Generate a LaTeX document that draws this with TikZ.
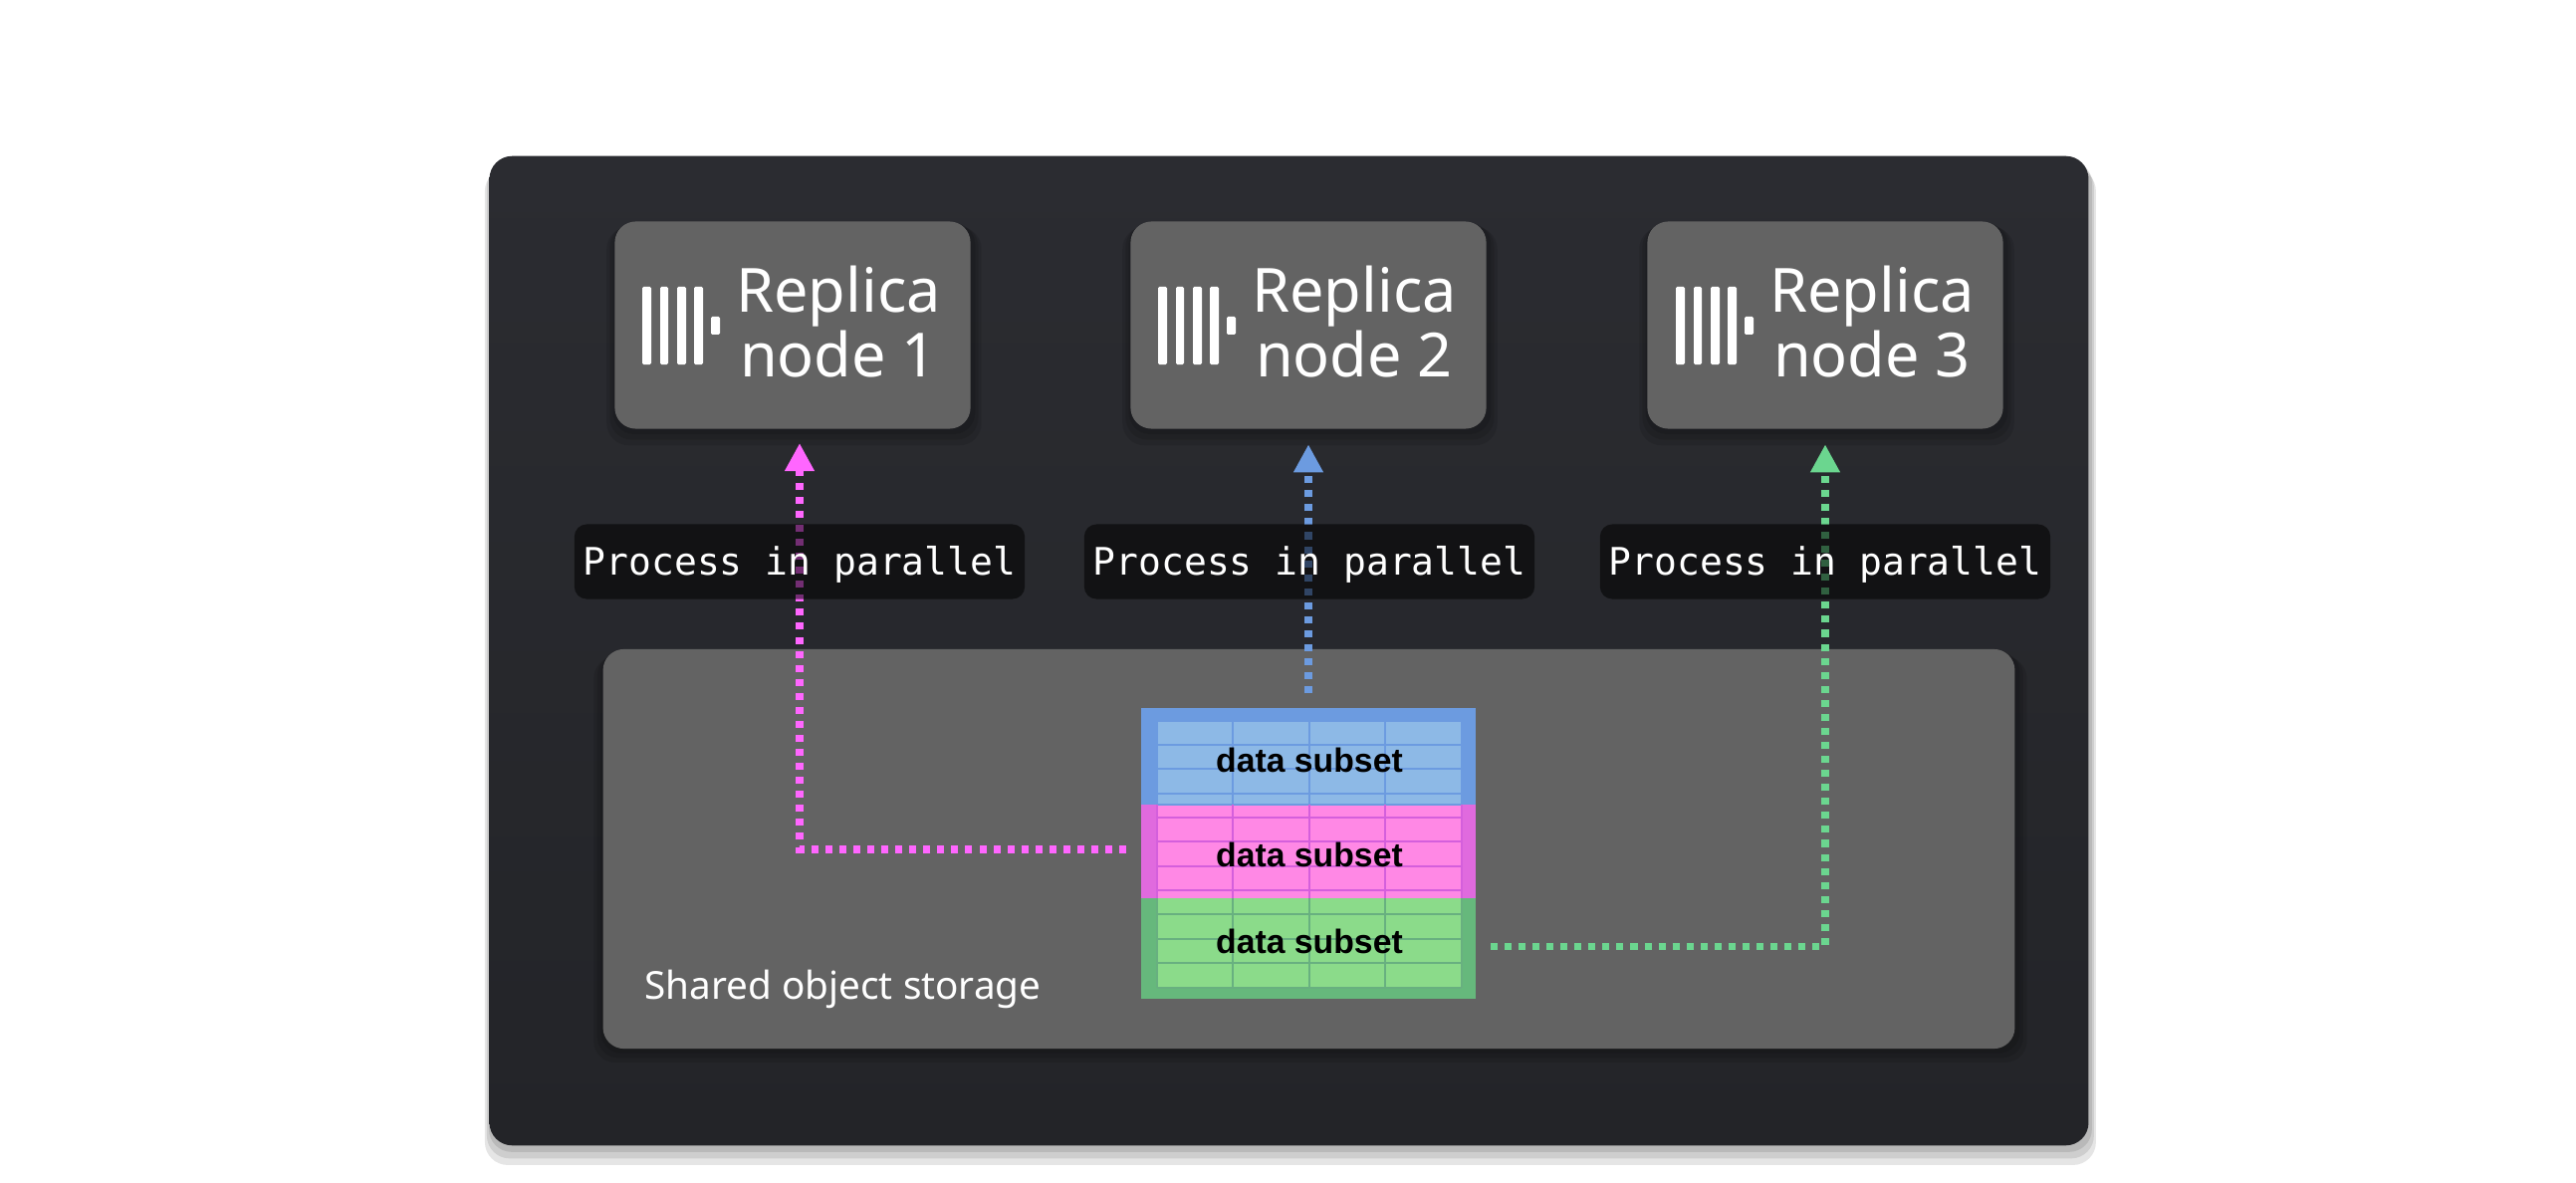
\documentclass[tikz,border=0pt]{standalone}
\usepackage{fontspec}
\setmainfont{Noto Sans}
\setmonofont{DejaVu Sans Mono}
\newfontfamily\subsetfont{Liberation Sans}
\usetikzlibrary{arrows.meta,
                positioning,
                shadows}

\definecolor{panelTop}{HTML}{2B2C31}
\definecolor{panelBottom}{HTML}{232428}
\definecolor{boxGrey}{HTML}{636363}
\definecolor{linkPink}{HTML}{FF66FF}
\definecolor{linkBlue}{HTML}{6C9BE0}
\definecolor{linkGreen}{HTML}{6BD68F}
\definecolor{innerBlue}{HTML}{8DB9E6}
\definecolor{innerPink}{HTML}{FF88E5}
\definecolor{innerGreen}{HTML}{8BDB8A}
\definecolor{outerPink}{HTML}{E06ADE}
\definecolor{outerGreen}{HTML}{66B87C}
\definecolor{gridPink}{HTML}{D45FDC}
\definecolor{gridGreen}{HTML}{68B080}

\tikzset{
    softshadow/.style 2 args={
        general shadow={fill=black,fill opacity=.10,shadow xshift=0.4pt,shadow yshift=-#2,shadow scale=1+#1},
        general shadow={fill=black,fill opacity=.10,shadow xshift=0.4pt,shadow yshift=-2*#2,shadow scale=1+2*#1},
        general shadow={fill=black,fill opacity=.10,shadow xshift=0.4pt,shadow yshift=-3*#2,shadow scale=1+3*#1}},
    panelbox/.style={rectangle, rounded corners=6.5pt, top color=panelTop, bottom color=panelBottom, minimum width=16.05cm, minimum height=9.93cm, inner sep=0pt},
    replicabox/.style={rectangle, rounded corners=6pt, fill=boxGrey, minimum width=3.57cm, minimum height=2.08cm, inner sep=0pt, softshadow={.018}{1pt}},
    replicatext/.style={align=center, text=white, font=\fontsize{17.4}{18.5}\selectfont, inner sep=0pt},
    storagebox/.style={rectangle, rounded corners=6pt, fill=boxGrey, minimum width=14.17cm, minimum height=4.01cm, inner sep=0pt, softshadow={.005}{1pt}},
    processlabel/.style={rectangle, rounded corners=3.5pt, fill=black, fill opacity=.55, text opacity=1, text=white, font=\ttfamily\fontsize{10.8}{12}\selectfont, text height=8pt, text depth=0.6pt, minimum width=4.52cm, minimum height=0.75cm, inner sep=0pt},
    bandbox/.style={rectangle, minimum width=3.36cm, inner sep=0pt},
    subsettext/.style={text=black, font=\subsetfont\bfseries\fontsize{9.6}{11}\selectfont, inner sep=0pt},
    link/.style={line width=2.1pt, dash pattern=on 2pt off 2pt, shorten <=14*0.2845pt, shorten >=15*0.2845pt, -{Triangle[width=8pt,length=8pt]}},
    gridline/.style={line width=0.4pt}
}

\newcommand{\replicalogo}[1]{
    \begin{scope}[shift={(#1,0)}]
        \fill[white, rounded corners=0.4pt] (645,288) rectangle (654,366);
        \fill[white, rounded corners=0.4pt] (663,288) rectangle (671,366);
        \fill[white, rounded corners=0.4pt] (680,288) rectangle (689,366);
        \fill[white, rounded corners=0.4pt] (697,288) rectangle (706,366);
        \fill[white, rounded corners=0.4pt] (714,318) rectangle (723,336);
    \end{scope}
}

\begin{document}
\begin{tikzpicture}[x=0.01cm, y=-0.01cm]
    \useasboundingbox (0,0) rectangle (2587,1188);

    \node[panelbox, softshadow={.0025}{1.5pt}] (panel) at (1294.5,653.5) {};

    \node[storagebox] (storage) at (1314.5,852.5) {};
    \node[text=white, font=\fontsize{11}{13}\selectfont, inner sep=0pt, anchor=west] (storagetext) at (647,993) {Shared object storage};

    % the three replicas
    \node[replicabox] (rep1) at (796,326.5) {};
    \node[replicabox] (rep2) at (1314,326.5) {};
    \node[replicabox] (rep3) at (1833,326.5) {};

    \replicalogo{0}
    \replicalogo{518}
    \replicalogo{1038}

    \node[replicatext] (reptext1) at (842,323) {Replica\\node 1};
    \node[replicatext] (reptext2) at (1360,323) {Replica\\node 2};
    \node[replicatext] (reptext3) at (1880,323) {Replica\\node 3};

    % data table
    \node[bandbox, fill=linkBlue, minimum height=0.97cm] (band1) at (1314,759.5) {};
    \node[bandbox, fill=outerPink, minimum height=0.94cm] (band2) at (1314,855) {};
    \node[bandbox, fill=outerGreen, minimum height=1.01cm] (band3) at (1314,952.5) {};

    \fill[innerBlue] (1162,724) rectangle (1468,808);
    \fill[innerPink] (1162,808) rectangle (1468,902);
    \fill[innerGreen] (1162,902) rectangle (1468,992);

    \draw[gridline, color=linkBlue] (1162,724) rectangle (1468,808);
    \draw[gridline, color=linkBlue] (1162,748) -- (1468,748);
    \draw[gridline, color=linkBlue] (1162,772) -- (1468,772);
    \draw[gridline, color=linkBlue] (1162,797) -- (1468,797);
    \draw[gridline, color=linkBlue] (1238,724) -- (1238,808);
    \draw[gridline, color=linkBlue] (1315,724) -- (1315,808);
    \draw[gridline, color=linkBlue] (1391,724) -- (1391,808);

    \draw[gridline, color=gridPink] (1162,821) -- (1468,821);
    \draw[gridline, color=gridPink] (1162,845) -- (1468,845);
    \draw[gridline, color=gridPink] (1162,870) -- (1468,870);
    \draw[gridline, color=gridPink] (1162,894) -- (1468,894);
    \draw[gridline, color=gridPink] (1238,808) -- (1238,902);
    \draw[gridline, color=gridPink] (1315,808) -- (1315,902);
    \draw[gridline, color=gridPink] (1391,808) -- (1391,902);
    \draw[gridline, color=gridPink] (1162,808) -- (1162,902);
    \draw[gridline, color=gridPink] (1468,808) -- (1468,902);

    \draw[gridline, color=gridGreen] (1162,918) -- (1468,918);
    \draw[gridline, color=gridGreen] (1162,943) -- (1468,943);
    \draw[gridline, color=gridGreen] (1162,967) -- (1468,967);
    \draw[gridline, color=gridGreen] (1162,992) -- (1468,992);
    \draw[gridline, color=gridGreen] (1238,902) -- (1238,992);
    \draw[gridline, color=gridGreen] (1315,902) -- (1315,992);
    \draw[gridline, color=gridGreen] (1391,902) -- (1391,992);
    \draw[gridline, color=gridGreen] (1162,902) -- (1162,992);
    \draw[gridline, color=gridGreen] (1468,902) -- (1468,992);

    \node[subsettext] (subset1) at (1315,763) {data subset};
    \node[subsettext] (subset2) at (1315,858) {data subset};
    \node[subsettext] (subset3) at (1315,945) {data subset};

    % connectors, the labels sit on top of them
    \coordinate (tip1) at (803,430);

    \draw[link, color=linkPink] ([yshift=0.6pt]band2.west) -| (tip1);
    \draw[link, color=linkBlue] (band1.north) -- (rep2.south);
    \draw[link, color=linkGreen] ([yshift=0.6pt]band3.east) -| (rep3.south);

    \node[processlabel] (proc1) at (803,564) {Process in parallel};
    \node[processlabel] (proc2) at (1315,564) {Process in parallel};
    \node[processlabel] (proc3) at (1833,564) {Process in parallel};
\end{tikzpicture}
\end{document}
